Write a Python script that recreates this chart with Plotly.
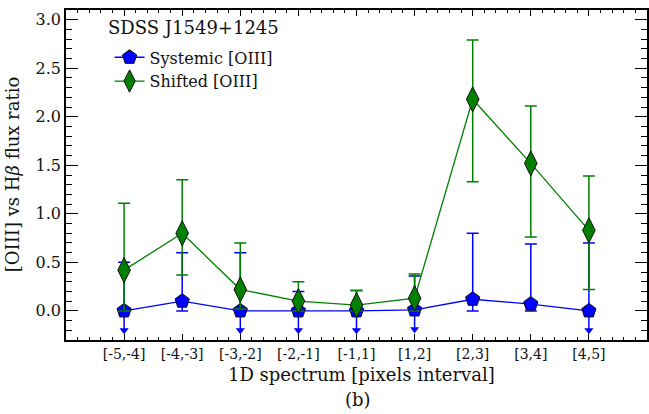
import plotly.graph_objects as go

# Spatial bins along the slit (1D spectrum, pixel intervals)
bin_labels = ["[-5,-4]", "[-4,-3]", "[-3,-2]", "[-2,-1]", "[-1,1]",
              "[1,2]", "[2,3]", "[3,4]", "[4,5]"]
bin_pos = list(range(len(bin_labels)))

# Systemic [OIII] / Hbeta ratio with upper/lower bounds of the error bars
sys_ratio = [0.00, 0.10, 0.00, 0.00, 0.00, 0.01, 0.12, 0.07, 0.00]
sys_upper = [0.50, 0.60, 0.60, 0.20, 0.21, 0.36, 0.80, 0.69, 0.70]
sys_lower = [0.00, 0.00, 0.00, 0.00, 0.00, 0.01, 0.00, 0.00, 0.00]
# bins where the systemic ratio is only an upper limit (drawn with a down arrow)
sys_is_limit = [True, False, True, True, True, True, False, False, True]
limit_arrow = 0.2

# Shifted [OIII] / Hbeta ratio with bounds
shf_ratio = [0.42, 0.80, 0.22, 0.10, 0.06, 0.13, 2.18, 1.52, 0.83]
shf_upper = [1.11, 1.35, 0.70, 0.30, 0.21, 0.38, 2.79, 2.11, 1.39]
shf_lower = [0.00, 0.37, 0.02, 0.00, 0.00, 0.00, 1.33, 0.76, 0.22]

BLUE = "#0000ff"
GREEN = "#008000"
FONT = "DejaVu Serif"
INK = "#111111"

fig = go.Figure()

# downward arrows for the upper-limit bins
lim_x = [x for x, f in zip(bin_pos, sys_is_limit) if f]
lim_y = [v - limit_arrow for v, f in zip(sys_ratio, sys_is_limit) if f]
fig.add_trace(go.Scatter(
    x=lim_x, y=lim_y, mode="markers", showlegend=False, hoverinfo="skip",
    marker=dict(symbol="triangle-down", size=8, color=BLUE, line=dict(width=0)),
    error_y=dict(type="data", symmetric=False,
                 array=[limit_arrow] * len(lim_x), arrayminus=[0] * len(lim_x),
                 color=BLUE, thickness=1.5, width=0),
))

fig.add_trace(go.Scatter(
    x=bin_pos, y=sys_ratio, mode="lines+markers", name="Systemic [OIII]",
    line=dict(color=BLUE, width=1.3),
    marker=dict(symbol="pentagon", size=15, color=BLUE,
                line=dict(color="#111111", width=1)),
    error_y=dict(type="data", symmetric=False,
                 array=[u - v for u, v in zip(sys_upper, sys_ratio)],
                 arrayminus=[0 if f else v - l for v, l, f in
                             zip(sys_ratio, sys_lower, sys_is_limit)],
                 color=BLUE, thickness=1.5, width=6),
))

fig.add_trace(go.Scatter(
    x=bin_pos, y=shf_ratio, mode="lines+markers", name="Shifted [OIII]",
    line=dict(color=GREEN, width=1.3),
    marker=dict(symbol="diamond-tall", size=18, color=GREEN,
                line=dict(color="#111111", width=1)),
    error_y=dict(type="data", symmetric=False,
                 array=[u - v for u, v in zip(shf_upper, shf_ratio)],
                 arrayminus=[v - l for v, l in zip(shf_ratio, shf_lower)],
                 color=GREEN, thickness=1.5, width=6),
))

axis_common = dict(showline=True, linecolor="black", linewidth=1.5,
                   mirror="ticks", showgrid=False, zeroline=False,
                   ticks="inside", tickcolor="black", tickwidth=1.3)

fig.update_xaxes(range=[-1, 9], tickmode="array", tickvals=bin_pos,
                 ticktext=bin_labels, ticklen=6,
                 tickfont=dict(family=FONT, size=14, color=INK),
                 minor=dict(tickmode="linear", tick0=0, dtick=0.2,
                            ticklen=3, ticks="inside", tickcolor="black"),
                 **axis_common)
fig.update_yaxes(range=[-0.3, 3.1], tickmode="linear", tick0=0, dtick=0.5,
                 tickformat=".1f", ticklen=12,
                 tickfont=dict(family=FONT, size=16, color=INK),
                 minor=dict(tickmode="linear", tick0=0, dtick=0.1,
                            ticklen=6, ticks="inside", tickcolor="black"),
                 **axis_common)

fig.update_layout(
    width=649, height=414,
    margin=dict(l=66, r=0, t=10, b=74),
    paper_bgcolor="white", plot_bgcolor="white",
    font=dict(family=FONT, color=INK),
    legend=dict(x=0.075, y=0.908, xanchor="left", yanchor="top",
                bgcolor="rgba(0,0,0,0)", font=dict(family=FONT, size=16, color=INK),
                traceorder="normal"),
    annotations=[
        dict(text="SDSS J1549+1245", xref="paper", yref="paper",
             x=(106 - 66) / 583, y=1 - (27 - 10) / 330, xanchor="left",
             yanchor="middle", showarrow=False,
             font=dict(family=FONT, size=18, color=INK)),
        dict(text="[OIII] vs H<i>β</i> flux ratio", xref="paper", yref="paper",
             x=(12 - 66) / 583, y=0.5, textangle=-90, xanchor="center",
             yanchor="middle", showarrow=False,
             font=dict(family=FONT, size=18, color=INK)),
        dict(text="1D spectrum [pixels interval]", xref="paper", yref="paper",
             x=(363 - 66) / 583, y=-(375 - 340) / 330, xanchor="center",
             yanchor="middle", showarrow=False,
             font=dict(family=FONT, size=18, color=INK)),
        dict(text="(b)", xref="paper", yref="paper",
             x=(359 - 66) / 583, y=-(399 - 340) / 330, xanchor="center",
             yanchor="middle", showarrow=False,
             font=dict(family=FONT, size=18, color=INK)),
    ],
)

fig.write_html("out.html")
